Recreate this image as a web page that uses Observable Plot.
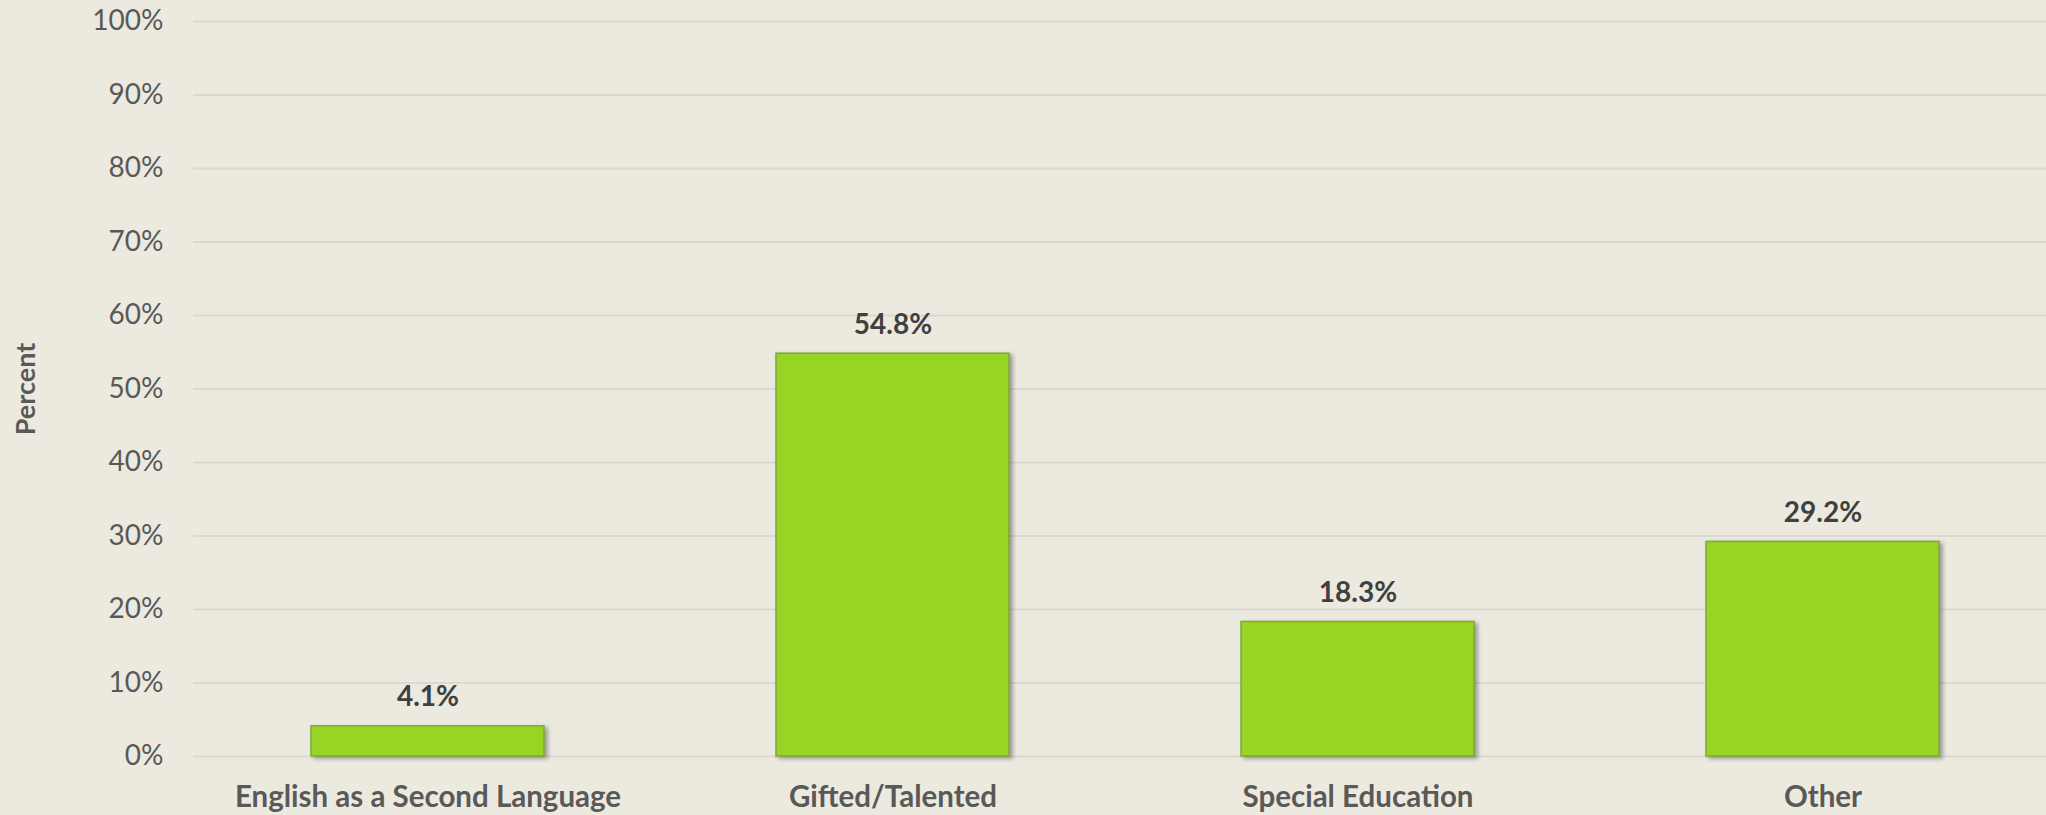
<!DOCTYPE html>
<html>
<head>
<meta charset="utf-8">
<script src="https://cdn.jsdelivr.net/npm/d3@7"></script>
<script src="https://cdn.jsdelivr.net/npm/@observablehq/plot@0.6"></script>
<style>
  html, body { margin: 0; padding: 0; background: #ECEADF; overflow: hidden; }
  #chart svg { display: block; }
  g[aria-label="bar"] rect { filter: drop-shadow(3px 2px 2px rgba(0,0,0,0.35)); }
</style>
</head>
<body>
<div id="chart"></div>
<script>
const categories = ["English as a Second Language", "Gifted/Talented", "Special Education", "Other"];
const values = [4.1, 54.8, 18.3, 29.2];
const yTicks = [0, 10, 20, 30, 40, 50, 60, 70, 80, 90, 100];

const data = categories.map((c, i) => ({category: c, value: values[i]}));
const font = "Lato, 'Open Sans', sans-serif";

const chart = Plot.plot({
  width: 2046,
  height: 815,
  marginTop: 21,
  marginBottom: 59,
  marginLeft: 193,
  marginRight: 0,
  style: {background: "#ECEADF", fontFamily: font},
  x: {domain: categories, range: [193, 2056], paddingInner: 0.5, paddingOuter: 0.25, label: null},
  y: {domain: [0, 100], label: null},
  marks: [
    Plot.ruleY(yTicks, {stroke: "#D9D8D2", strokeWidth: 2}),
    Plot.barY(data, {
      x: "category", y: "value",
      fill: "#97D424", stroke: "#7FA83A", strokeWidth: 1.5
    }),
    Plot.text(data, {
      x: "category", y: "value",
      text: d => d.value.toFixed(1) + "%",
      dy: -29, fill: "#404040", fontSize: 28, fontWeight: "bold"
    }),
    Plot.axisY({
      ticks: yTicks, tickFormat: d => d + "%", tickSize: 0, tickPadding: 30,
      fontSize: 28, fill: "#595959", label: null
    }),
    Plot.axisX({
      tickSize: 0, tickPadding: 30, fontSize: 29.5, fontWeight: "bold",
      fill: "#595959", label: null
    }),
    Plot.text(["Percent"], {
      frameAnchor: "left", textAnchor: "middle", dx: -167, rotate: -90,
      fontSize: 27, fontWeight: "bold", fill: "#595959"
    })
  ]
});
document.getElementById("chart").appendChild(chart);
</script>
</body>
</html>
